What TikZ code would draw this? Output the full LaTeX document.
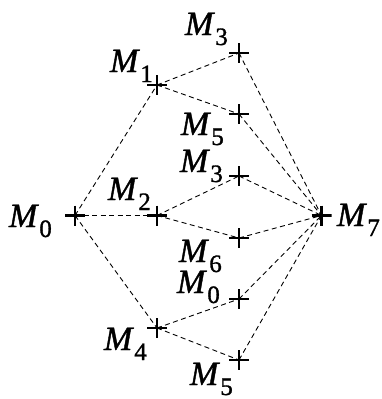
\documentclass[tikz,border=0pt]{standalone}
\usepackage{fontspec}
\setmainfont{Liberation Serif}
\newfontfamily\labfont[FakeBold=1.2]{Liberation Serif}
\newcommand\mlab[1]{{\labfont\fontsize{34}{34}\selectfont\itshape M}\kern2pt\raisebox{-10pt}{\labfont\fontsize{25}{25}\selectfont #1}}
\begin{document}
\begin{tikzpicture}[x=1pt,y=-1pt,
  plusmark/.style={inner sep=0pt, minimum size=20pt, outer sep=0pt,
    path picture={\draw[line width=2.4pt]
      (path picture bounding box.north) -- (path picture bounding box.south)
      (path picture bounding box.west) -- (path picture bounding box.east);}},
  conn/.style={line width=0.9pt, dash pattern=on 5pt off 3.5pt},
  lab/.style={anchor=base west, inner sep=0pt, outer sep=0pt}]
\useasboundingbox (0,0) rectangle (382,399);
% points
\node[plusmark] (m0) at (75,215.5) {};
\node[plusmark] (m1) at (157,85) {};
\node[plusmark] (m2) at (157,215.5) {};
\node[plusmark] (m4) at (157,328) {};
\node[plusmark] (m3a) at (239,53) {};
\node[plusmark] (m5a) at (239,114) {};
\node[plusmark] (m3b) at (239,176) {};
\node[plusmark] (m6) at (239,238) {};
\node[plusmark] (m0b) at (239,299) {};
\node[plusmark] (m5b) at (239,360) {};
\node[plusmark] (m7) at (321.5,215.5) {};
% connectors
\foreach \a/\b in {m0/m1, m0/m2, m0/m4, m1/m3a, m1/m5a, m2/m3b, m2/m6, m4/m0b, m4/m5b,
  m3a/m7, m5a/m7, m3b/m7, m6/m7, m0b/m7, m5b/m7}
  \draw[conn] (\a.center) -- (\b.center);
% labels
\node[lab] (l3a) at (185,35) {\mlab{3}};
\node[lab] (l1) at (110,72) {\mlab{1}};
\node[lab] (l5a) at (181,135) {\mlab{5}};
\node[lab] (l3b) at (180,172) {\mlab{3}};
\node[lab] (l2) at (108,200) {\mlab{2}};
\node[lab] (l0) at (9,227) {\mlab{0}};
\node[lab] (l7) at (337,226) {\mlab{7}};
\node[lab] (l6) at (179,262) {\mlab{6}};
\node[lab] (l0b) at (177,293) {\mlab{0}};
\node[lab] (l4) at (104,350) {\mlab{4}};
\node[lab] (l5b) at (190,385) {\mlab{5}};
\end{tikzpicture}
\end{document}
